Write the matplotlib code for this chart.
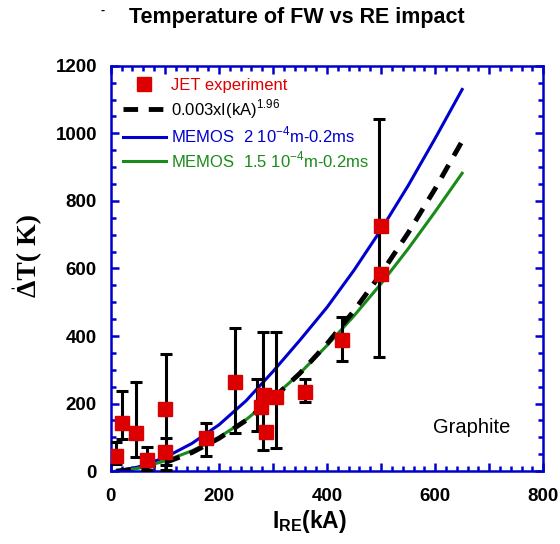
import matplotlib
matplotlib.use("Agg")
import matplotlib.pyplot as plt
from matplotlib.ticker import MultipleLocator, FuncFormatter

plt.rcParams['font.family'] = ['Liberation Sans', 'DejaVu Sans']
plt.rcParams['mathtext.fontset'] = 'custom'
plt.rcParams['mathtext.rm'] = 'Liberation Sans'
plt.rcParams['mathtext.bf'] = 'Liberation Sans:bold'

# JET experiment points
jet_x = [10, 21, 47, 67, 100, 100, 176, 230, 277, 284, 287, 305, 360, 428, 500, 500]
jet_y = [44, 141, 112, 33, 184, 57, 97, 263, 191, 225, 116, 218, 233, 388, 726, 584]

# error bars (x, low, high)
bar_x = [10, 21, 47, 67, 102, 102, 176, 230, 271, 282, 305, 360, 428, 496]
bar_lo = [21, 95, 42, 3, 3, 17, 45, 113, 119, 62, 67, 204, 327, 337]
bar_hi = [87, 238, 265, 72, 346, 97, 143, 425, 273, 411, 413, 273, 457, 1042]

# curves
curve_x = [10, 50, 100, 150, 200, 250, 300, 350, 400, 450, 500, 550, 600, 650]
fit_y = [0, 6, 25, 55, 97, 150, 215, 290, 377, 475, 585, 705, 836, 977]
memos2_y = [0, 12, 40, 82, 137, 208, 295, 388, 485, 595, 715, 845, 985, 1130]
memos15_y = [0, 8, 30, 60, 100, 152, 218, 290, 372, 460, 555, 658, 768, 882]

RED = '#dd0000'
BLUE = '#0000cc'
GREEN = '#1a8a1a'

fig = plt.figure(figsize=(5.6, 5.44), dpi=100)
ax = fig.add_axes([0.198, 0.134, 0.772, 0.745])

ax.plot(curve_x, memos2_y, color=BLUE, lw=2.2, label='MEMOS  2 10$^{-4}$m-0.2ms')
ax.plot(curve_x, memos15_y, color=GREEN, lw=2.2, label='MEMOS  1.5 10$^{-4}$m-0.2ms')
ax.plot(curve_x, fit_y, color='black', lw=3.5, dashes=(3, 2.2),
        label='0.003xI(kA)$^{1.96}$')

mid = [(lo + hi) / 2 for lo, hi in zip(bar_lo, bar_hi)]
err = [[m - lo for m, lo in zip(mid, bar_lo)], [hi - m for m, hi in zip(mid, bar_hi)]]
ax.errorbar(bar_x, mid, yerr=err, fmt='none', ecolor='black', elinewidth=2.2,
            capsize=4.5, capthick=2.2, zorder=3)
ax.plot(jet_x, jet_y, 's', color=RED, ms=9.5, mec=RED, zorder=4, label='JET experiment')

ax.set_xlim(0, 800)
ax.set_ylim(0, 1200)

ax.xaxis.set_major_locator(MultipleLocator(100))
ax.xaxis.set_minor_locator(MultipleLocator(20))
ax.xaxis.set_major_formatter(FuncFormatter(lambda v, p: f'{int(v)}' if int(v) % 200 == 0 else ''))
ax.yaxis.set_major_locator(MultipleLocator(200))
ax.yaxis.set_minor_locator(MultipleLocator(50))

ax.tick_params(which='both', direction='in', color=BLUE, top=True, right=True, width=1.8)
ax.tick_params(which='major', length=6, labelsize=13.5, pad=10)
ax.tick_params(axis='x', which='major', pad=12)
ax.tick_params(which='minor', length=3.5)
for lab in ax.get_xticklabels() + ax.get_yticklabels():
    lab.set_fontweight('bold')
for sp in ax.spines.values():
    sp.set_color(BLUE)
    sp.set_linewidth(1.8)

ax.set_xlabel(r'$\mathbf{I_{RE}}$(kA)', fontsize=16.5, fontweight='bold')
ax.xaxis.set_label_coords(0.46, -0.09)
ax.set_ylabel('ΔT( K)', fontsize=20, fontweight='bold', family='Liberation Serif')
ax.yaxis.set_label_coords(-0.16, 0.533)
fig.text(297 / 560, 1 - 18 / 544, 'Temperature of FW vs RE impact', fontsize=15.5,
         fontweight='bold', ha='center', va='center')
fig.text(13 / 560, 1 - 289 / 544, '-', fontsize=9, fontweight='bold', ha='center', va='center')
fig.text(103 / 560, 1 - 11 / 544, '-', fontsize=9, fontweight='bold', ha='center', va='center')

ax.text(668, 130, 'Graphite', fontsize=14.5, ha='center', va='center')

handles, labels = ax.get_legend_handles_labels()
order = [3, 2, 0, 1]
leg = ax.legend([handles[i] for i in order], [labels[i] for i in order], loc='upper left',
                frameon=False, fontsize=12, handlelength=2.6, handletextpad=0.3,
                labelspacing=0.24, borderaxespad=0.3, bbox_to_anchor=(0.0, 0.998))
for txt, c in zip(leg.get_texts(), [RED, 'black', BLUE, GREEN]):
    txt.set_color(c)

fig.savefig('out.png', dpi=100)
